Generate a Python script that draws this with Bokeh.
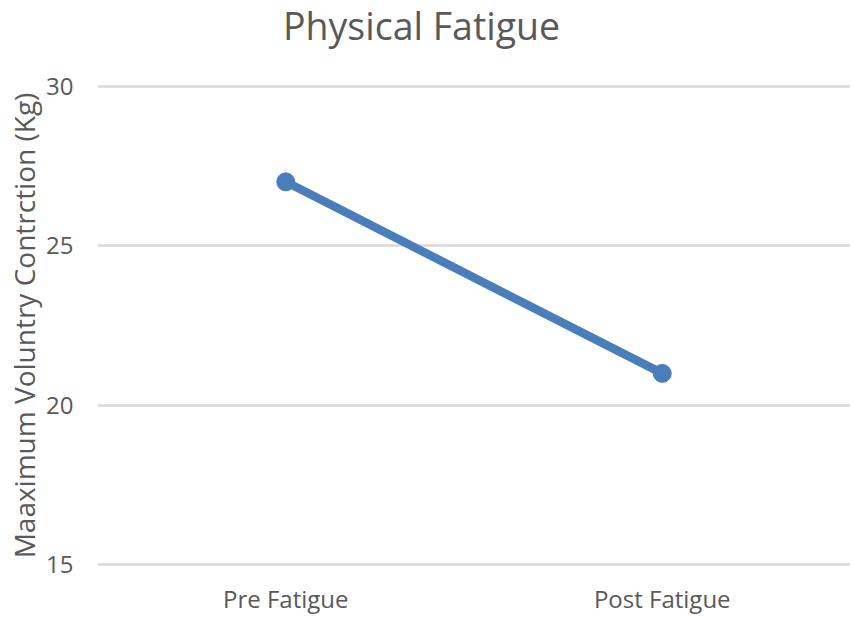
from bokeh.plotting import figure
from bokeh.models import FactorRange, Range1d, FixedTicker, Div
from bokeh.layouts import column
from bokeh.embed import file_html
from bokeh.resources import INLINE

categories = ["Pre Fatigue", "Post Fatigue"]
values = [27, 21]
y_ticks = [15, 20, 25, 30]
title_text = "Physical Fatigue"

FONT = "Open Sans"
GREY = "#595959"

title = Div(text=title_text, width=854, height=51, margin=(0, 0, 0, 0),
            styles={"font-family": FONT, "font-size": "37.5px", "color": GREY,
                    "line-height": "51px", "padding-left": "283px", "white-space": "nowrap"})

p = figure(width=854, height=566, x_range=FactorRange(*categories),
           y_range=Range1d(14.92, 30.08),
           output_backend="svg", toolbar_location=None, margin=(0, 0, 0, 0),
           min_border_left=97, min_border_right=4, min_border_top=32, min_border_bottom=49)
p.outline_line_color = None
p.xgrid.grid_line_color = None
p.ygrid.grid_line_color = "#d9d9d9"
p.ygrid.grid_line_width = 2.5

for ax in (p.xaxis, p.yaxis):
    ax.axis_line_color = None
    ax.major_tick_line_color = None
    ax.minor_tick_line_color = None
    ax.major_tick_out = 0
    ax.major_tick_in = 0
    ax.minor_tick_out = 0
    ax.minor_tick_in = 0
    ax.major_label_text_font = FONT
    ax.major_label_text_font_size = "24px"
    ax.major_label_text_color = GREY

p.yaxis.ticker = FixedTicker(ticks=y_ticks)
p.yaxis.major_label_standoff = 24
p.yaxis.axis_label = "Maaximum Voluntry Contrction (Kg)"
p.yaxis.axis_label_text_font = FONT
p.yaxis.axis_label_text_font_size = "28px"
p.yaxis.axis_label_text_font_style = "normal"
p.yaxis.axis_label_text_color = GREY
p.yaxis.axis_label_standoff = 0

p.xaxis.major_label_standoff = 14

p.line(categories, values, line_color="#4a7ebb", line_width=8.5)
p.scatter(categories, values, size=18, fill_color="#4a7ebb", line_color="#4a7ebb")

layout = column(title, p, spacing=0)

open("out.html", "w").write(file_html(layout, INLINE))
